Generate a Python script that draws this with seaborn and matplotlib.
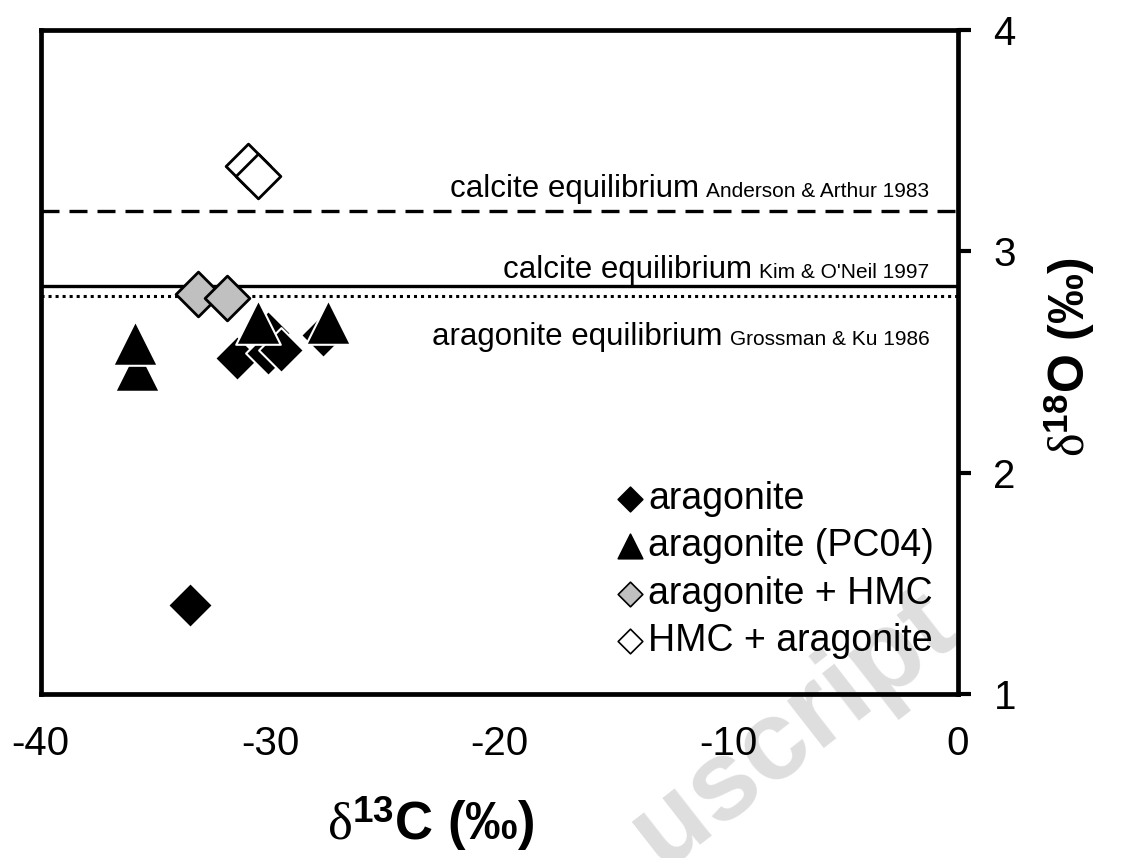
import matplotlib
matplotlib.use("Agg")
import matplotlib.pyplot as plt
import seaborn as sns
import pandas as pd

# ---- data ----
arag_x = [-33.5, -31.45, -30.1, -30.07, -29.53, -27.68]
arag_y = [1.40, 2.52, 2.63, 2.54, 2.555, 2.62]

pc04_x = [-35.79, -35.88, -30.51, -27.48]
pc04_y = [2.468, 2.588, 2.679, 2.679]

aragHMC_x = [-33.13, -31.89]
aragHMC_y = [2.807, 2.788]

HMCarag_x = [-30.95, -30.51]
HMCarag_y = [3.387, 3.340]

eq_anderson = 3.183
eq_kim = 2.843
eq_grossman = 2.800

x_ticks = [-40, -30, -20, -10, 0]
y_ticks = [1, 2, 3, 4]

sns.set_theme(style="white")
plt.rcParams['font.family'] = ['Liberation Sans', 'DejaVu Sans']
plt.rcParams['text.color'] = 'black'
plt.rcParams['axes.labelcolor'] = 'black'
plt.rcParams['xtick.color'] = 'black'
plt.rcParams['ytick.color'] = 'black'
plt.rcParams['axes.unicode_minus'] = False
plt.rcParams['mathtext.fontset'] = 'custom'
plt.rcParams['mathtext.rm'] = 'Liberation Serif'
plt.rcParams['mathtext.it'] = 'Liberation Serif:italic'
plt.rcParams['mathtext.bf'] = 'Liberation Sans:bold'
plt.rcParams['mathtext.sf'] = 'Liberation Sans'

fig = plt.figure(figsize=(11.22, 8.58), dpi=100)
ax = fig.add_axes([40.7 / 1122, 1 - 694 / 858, (958 - 40.7) / 1122, (694 - 30) / 858])
ax.patch.set_alpha(0)

# watermark (behind everything)
fig.text(0.545, 0.15, "uscript", rotation=38, fontsize=82, fontweight='bold',
         color='#dedede', zorder=-5, ha='left', va='center')

# reference lines
ax.axhline(eq_anderson, color='black', lw=2.4, ls=(0, (5.4, 3.0)), zorder=1)
ax.axhline(eq_kim, color='black', lw=2.4, ls='-', zorder=1)
ax.axhline(eq_grossman, color='black', lw=2.2, ls=(0, (1, 1.3)), zorder=1)

d_s = 520
t_s = 1030
sns.scatterplot(x=arag_x, y=arag_y, marker='D', s=d_s, color='black',
                edgecolor='white', linewidth=1.5, label='aragonite', ax=ax, zorder=3)
sns.scatterplot(x=pc04_x, y=pc04_y, marker='^', s=t_s, color='black',
                edgecolor='white', linewidth=1.5, label='aragonite (PC04)', ax=ax, zorder=4)
sns.scatterplot(x=aragHMC_x, y=aragHMC_y, marker='D', s=d_s, color='#c0c0c0',
                edgecolor='black', linewidth=2.0, label='aragonite + HMC', ax=ax, zorder=5)
sns.scatterplot(x=HMCarag_x, y=HMCarag_y, marker='D', s=d_s, color='white',
                edgecolor='black', linewidth=2.0, label='HMC + aragonite', ax=ax, zorder=5)

# line labels: large main text + smaller citation
def line_label(y, big, small):
    t_small = ax.text(-1.25, y, small, fontsize=15, ha='right', va='baseline', zorder=6)
    ax.annotate(big, xy=(0, y), xycoords=(t_small, 'data'), xytext=(-5, 0),
                textcoords='offset points', ha='right', va='baseline', fontsize=22.5, zorder=6)

line_label(3.245, 'calcite equilibrium', 'Anderson & Arthur 1983')
line_label(2.879, 'calcite equilibrium', "Kim & O'Neil 1997")
line_label(2.577, 'aragonite equilibrium', 'Grossman & Ku 1986')

ax.set_xlim(-40, 0)
ax.set_ylim(1, 4)
ax.set_xticks(x_ticks)
ax.set_yticks(y_ticks)
ax.yaxis.tick_right()
ax.yaxis.set_label_position('right')
ax.tick_params(axis='both', which='major', direction='out', length=9.5, width=3,
               labelsize=29, color='black', labelcolor='black')
ax.tick_params(axis='x', pad=13)
ax.tick_params(axis='y', pad=16)
for sp in ax.spines.values():
    sp.set_visible(True)
    sp.set_color('black')
    sp.set_linewidth(3.4)

ax.set_xlabel(r'$\mathrm{\delta}^{\mathbf{13}}$C (‰)', fontsize=38, fontweight='bold')
ax.set_ylabel(r'$\mathrm{\delta}^{\mathbf{18}}$O (‰)', fontsize=36, fontweight='bold')
ax.xaxis.set_label_coords((431 - 40.7) / 917.3, -0.152)
ax.yaxis.set_label_coords((1069 - 40.7) / 917.3, 0.5075)
ax.yaxis.label.set_va('center')
ax.yaxis.label.set_ha('center')

leg = ax.legend(loc='upper left', bbox_to_anchor=(615 / 1122, 1 - 481 / 858),
                bbox_transform=fig.transFigure, frameon=False, fontsize=27,
                markerscale=0.55, handletextpad=0.08, handlelength=0.8,
                labelspacing=0.30, borderpad=0, borderaxespad=0)
for h in leg.legend_handles:
    try:
        h.set_edgecolor('black')
        h.set_linewidth(1.2)
    except Exception:
        pass

fig.savefig('out.png', dpi=100)
